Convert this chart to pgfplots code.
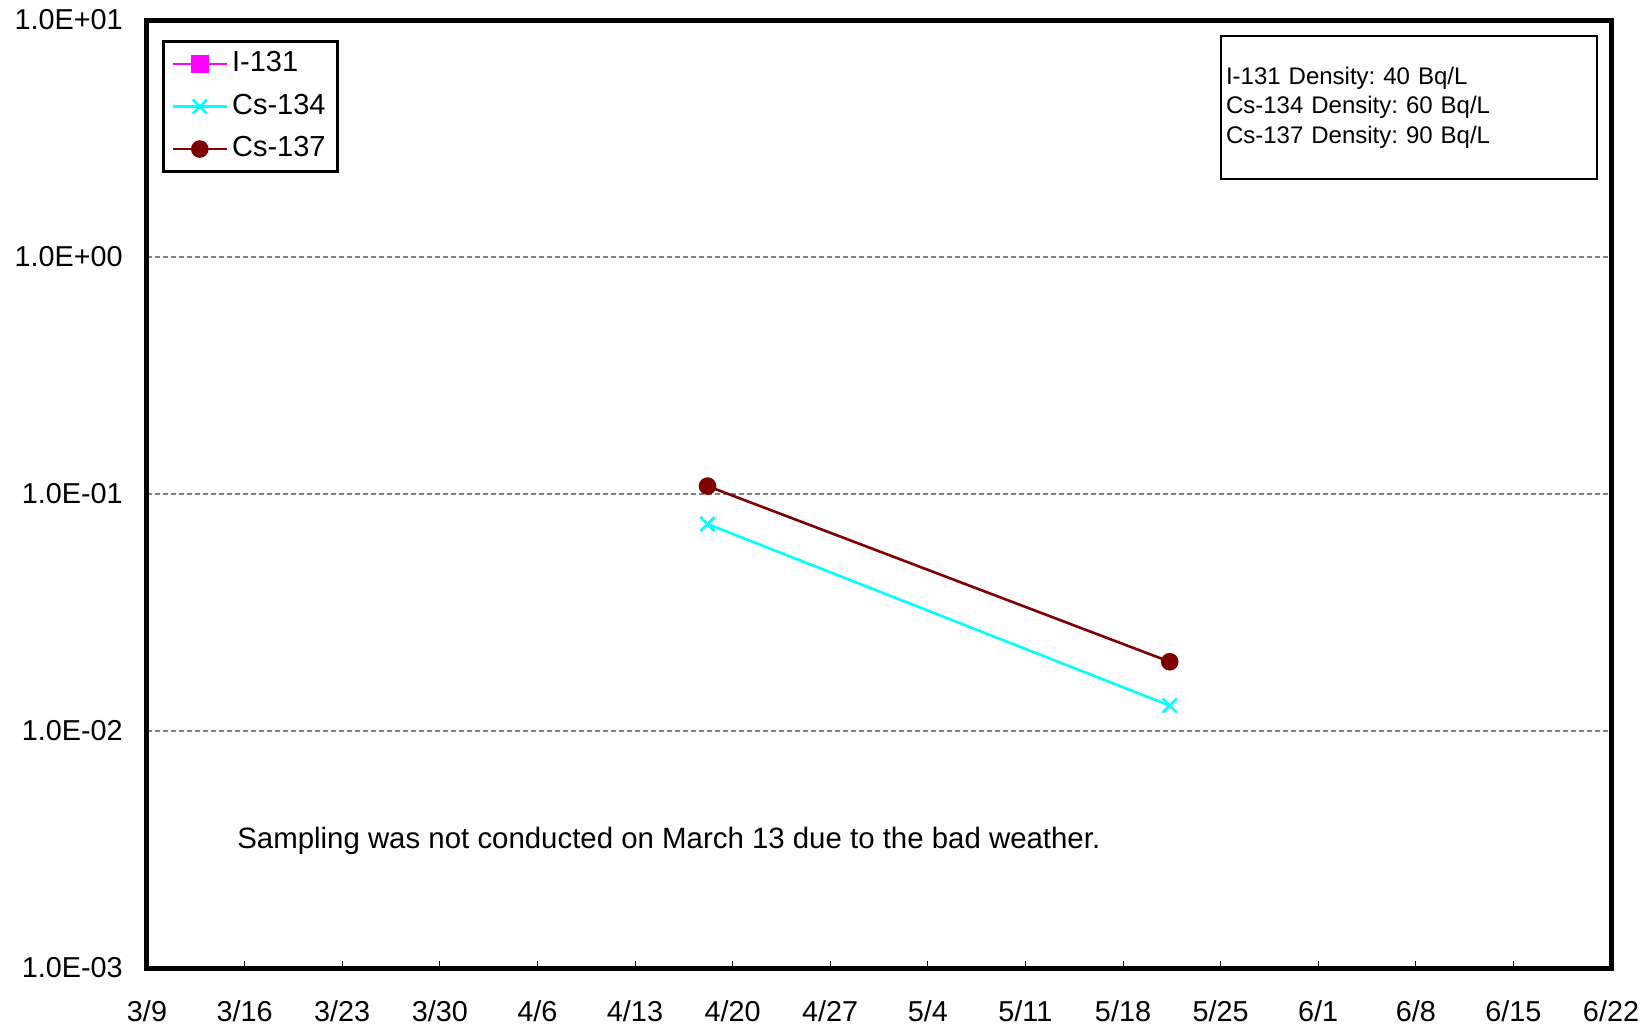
\documentclass[border=0pt]{standalone}
\usepackage{pgfplots}
\pgfplotsset{compat=1.18}
\usepackage{fontspec}
\setmainfont{Liberation Sans}
\frenchspacing
\definecolor{csmaroon}{HTML}{800000}
\definecolor{csmagenta}{HTML}{FF00FF}
\definecolor{cscyan}{HTML}{00FFFF}

\begin{document}
\begin{tikzpicture}
  % page size fixed to the reference proportions (1px = 0.5pt)
  \useasboundingbox (-73.5pt,-32pt) rectangle (750pt,484pt);
  \begin{axis}[
    scale only axis,
    width=732pt, height=474pt,
    at={(0pt,0pt)}, anchor=south west,
    xmin=0, xmax=105,
    ymode=log, ymin=1e-3, ymax=10,
    axis line style={line width=2.5pt},
    xtick={0,7,...,105},
    xticklabels={3/9,3/16,3/23,3/30,4/6,4/13,4/20,4/27,5/4,5/11,5/18,5/25,6/1,6/8,6/15,6/22},
    xtick pos=bottom, xtick align=inside,
    x tick style={black, line width=0.5pt},
    major tick length=3.5pt,
    ytick={1e-3,1e-2,1e-1,1,10},
    yticklabels={1.0E-03,1.0E-02,1.0E-01,1.0E+00,1.0E+01},
    y tick style={draw=none},
    ymajorgrids=true,
    major grid style={gray, line width=0.75pt, dash pattern=on 2.5pt off 1.5pt},
    tick label style={font=\fontsize{14.4}{17}\selectfont},
    /pgf/number format/assume math mode=true,
    xticklabel style={yshift=-13pt},
    yticklabel style={xshift=-8.6pt},
    legend style={at={(0,1)}, anchor=north west, xshift=7.5pt, yshift=-10pt,
      draw=black, line width=1.5pt, font=\fontsize{14.5}{17}\selectfont,
      row sep=4.6pt, inner xsep=4pt, inner ysep=3pt,
      nodes={inner sep=2pt, text depth=0.25em}},
    legend cell align=left,
    legend image code/.code={%
      \draw[mark repeat=2, mark phase=2] plot coordinates {(0pt,0pt) (13.5pt,0pt) (27pt,0pt)};},
  ]
    \addlegendimage{csmagenta, line width=1.3pt, mark=square*, mark size=3.75pt, mark options={solid}}
    \addlegendentry{I-131}
    \addplot[cscyan, line width=1.3pt, mark=x, mark size=5pt] coordinates {
      (40.2, 0.0747) (73.35, 0.0128)
    };
    \addlegendentry{Cs-134}
    \addplot[csmaroon, line width=1.3pt, mark=*, mark size=3.75pt] coordinates {
      (40.2, 0.108) (73.35, 0.0196)
    };
    \addlegendentry{Cs-137}
    \node[anchor=west, font=\fontsize{14.7}{17}\selectfont, inner sep=0pt]
      at (axis cs:6.45,0.00345) {Sampling was not conducted on March 13 due to the bad weather.};
    \node[anchor=north east, draw=black, line width=1pt, xshift=-6.5pt, yshift=-7.5pt,
      minimum width=188pt, minimum height=71.5pt, text width=183pt, inner xsep=2.5pt,
      align=left, font=\fontsize{12}{14.7}\selectfont]
      at (rel axis cs:1,1) {I-131 Density: 40 Bq/L\\Cs-134 Density: 60 Bq/L\\Cs-137 Density: 90 Bq/L};
  \end{axis}
\end{tikzpicture}
\end{document}
